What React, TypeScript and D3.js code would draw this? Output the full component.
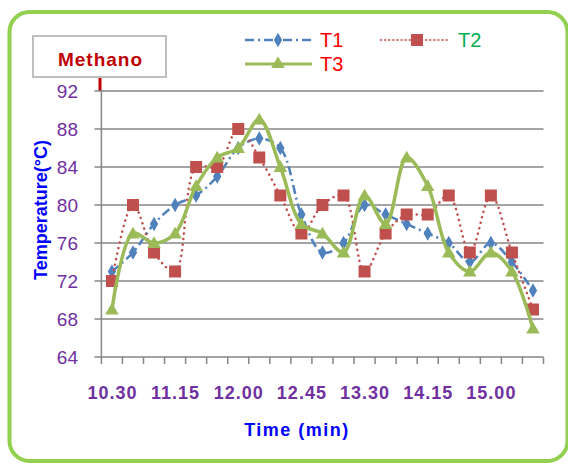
import React from "react";
import * as d3 from "d3";

const times = ["10.30","10.45","11.00","11.15","11.30","11.45","12.00","12.15","12.30","12.45","13.00","13.15","13.30","13.45","14.00","14.15","14.30","14.45","15.00","15.15","15.30"];
const t1 = [73,75,78,80,81,83,86,87,86,79,75,76,80,79,78,77,76,74,76,74,71];
const t2 = [72,80,75,73,84,84,88,85,81,77,80,81,73,77,79,79,81,75,81,75,69];
const t3 = [69,77,76,77,82,85,86,89,84,78,77,75,81,78,85,82,75,73,75,73,67];
const yTicks = [64,68,72,76,80,84,88,92];
const shownLabels = ["10.30","11.15","12.00","12.45","13.30","14.15","15.00"];

const FONT = "'Liberation Sans', Arial, sans-serif";
const BLUE = "#4F81BD", RED = "#C0504D", GREEN = "#9BBB59", GRID = "#868686", PURPLE = "#7030A0";

export default function App() {
  const left = 101.4, right = 543.5, top = 91, bottom = 357;
  const x = d3.scaleBand<string>().domain(times).range([left, right]);
  const bw = x.bandwidth();
  const cx = (i: number) => (x(times[i]) as number) + bw / 2;
  const y = d3.scaleLinear().domain([64, 92]).range([bottom, top]);
  const line = d3.line<number>().x((_, i) => cx(i)).y(v => y(v)).curve(d3.curveCatmullRom.alpha(0.5));
  const diamond = d3.symbol(d3.symbolDiamond, 60)() as string;
  const tri = d3.symbol(d3.symbolTriangle, 80)() as string;
  const boundaries = d3.range(times.length + 1).map(i => left + i * bw);

  return (
    <svg width={568} height={464} style={{ position: "absolute", left: 0, top: 0 }} fontFamily={FONT}>
      <rect x={0} y={0} width={568} height={464} fill="#fff" />
      <rect x={9.5} y={12} width={558} height={449} rx={20} ry={20} fill="#fff" stroke="#92D050" strokeWidth={4} />
      {/* title box */}
      <rect x={33} y={36} width={133} height={41} fill="#fff" stroke="#BFBFBF" strokeWidth={2} />
      <text x={100.5} y={66} textAnchor="middle" fontSize={19} fontWeight={600} letterSpacing={1} fill="#C00000">Methano</text>
      <rect x={98.5} y={78} width={3} height={13} fill="#C00000" />
      {/* gridlines */}
      {yTicks.map(v => (
        <line key={v} x1={left - 7} x2={right} y1={y(v)} y2={y(v)} stroke={GRID} strokeWidth={1.5} />
      ))}
      <line x1={left} x2={left} y1={top} y2={bottom} stroke={GRID} strokeWidth={1.5} />
      {boundaries.map((b, i) => (
        <line key={i} x1={b} x2={b} y1={bottom} y2={bottom + 7} stroke={GRID} strokeWidth={1.5} />
      ))}
      {yTicks.map(v => (
        <text key={v} x={78} y={y(v) + 6.5} textAnchor="end" fontSize={19} fill={PURPLE}>{v}</text>
      ))}
      {times.map((t, i) => shownLabels.includes(t) ? (
        <text key={t} x={cx(i) + 0.5} y={399} textAnchor="middle" fontSize={18} fontWeight="bold" letterSpacing={1} fill={PURPLE}>{t}</text>
      ) : null)}
      <text x={297} y={436} textAnchor="middle" fontSize={18} fontWeight="bold" letterSpacing={1.5} fill="#0000FF">Time (min)</text>
      <text transform="translate(47,210) rotate(-90)" textAnchor="middle" fontSize={18} fontWeight="bold" fill="#0000FF">Temperature(°C)</text>
      {/* series */}
      <path d={line(t1) as string} fill="none" stroke={BLUE} strokeWidth={2.5} strokeDasharray="9 4 2 4" />
      {t1.map((v, i) => <path key={i} d={diamond} transform={`translate(${cx(i)},${y(v)})`} fill={BLUE} />)}
      <path d={line(t2) as string} fill="none" stroke={RED} strokeWidth={2.5} strokeDasharray="0.1 5.5" strokeLinecap="round" />
      {t2.map((v, i) => <rect key={i} x={cx(i) - 6} y={y(v) - 6} width={12} height={12} fill={RED} />)}
      <path d={line(t3) as string} fill="none" stroke={GREEN} strokeWidth={3.5} />
      {t3.map((v, i) => <path key={i} d={tri} transform={`translate(${cx(i)},${y(v) + 1})`} fill={GREEN} />)}
      {/* legend */}
      <line x1={245} x2={311} y1={40} y2={40} stroke={BLUE} strokeWidth={2.5} strokeDasharray="9 4 2 4" />
      <path d={diamond} transform="translate(278,40)" fill={BLUE} />
      <text x={320} y={47} fontSize={20} fill="#FF0000">T1</text>
      <line x1={381} x2={450} y1={40} y2={40} stroke={RED} strokeWidth={2.5} strokeDasharray="0.1 4" strokeLinecap="round" opacity={0.7} />
      <rect x={411} y={34} width={12} height={12} fill={RED} />
      <text x={458} y={47} fontSize={20} fill="#00B050">T2</text>
      <line x1={245} x2={312} y1={64} y2={64} stroke={GREEN} strokeWidth={3} />
      <path d={tri} transform="translate(278,64)" fill={GREEN} />
      <text x={320} y={71} fontSize={20} fill="#FF0000">T3</text>
    </svg>
  );
}
